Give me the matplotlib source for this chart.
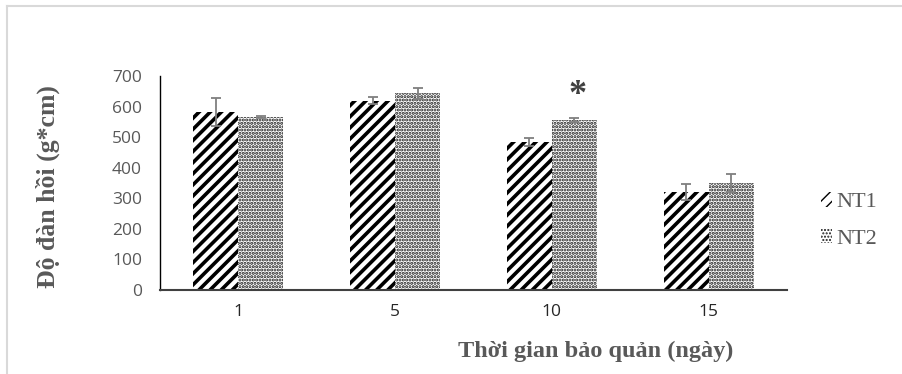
import matplotlib
matplotlib.use('Agg')
import matplotlib.pyplot as plt
from matplotlib.lines import Line2D
import numpy as np

days = ['1', '5', '10', '15']
nt1 = [582, 619, 484, 321]
nt1_err = [45, 12, 12, 25]
nt2 = [566, 643, 557, 350]
nt2_err = [4, 17, 7, 28]
series_names = ['NT1', 'NT2']
star_label = '*'

def work():
    fig = plt.figure(figsize=(9.02, 3.74), dpi=100)
    ax = fig.add_axes([0.1774, 0.2246, 0.6951, 0.5722])

    x = np.arange(len(days))
    w = 0.287
    err_kw = dict(ecolor='#7f7f7f', elinewidth=1.3, capsize=3.5, capthick=1.3)

    with plt.rc_context({'hatch.linewidth': 2.6}):
        ax.bar(x - w / 2, nt1, w, yerr=nt1_err, color='white', edgecolor='black',
               linewidth=0, hatch='///', error_kw=err_kw, label=series_names[0])
    with plt.rc_context({'hatch.linewidth': 1.5}):
        ax.bar(x + w / 2, nt2, w, yerr=nt2_err, color='white', edgecolor='#1a1a1a',
               linewidth=0, hatch='.....', error_kw=err_kw, label=series_names[1])

    # significance mark above NT2, day 10
    ax.text(x[2] + w / 2 + 0.02, nt2[2] + nt2_err[2] + 18, star_label, ha='center', va='bottom',
            fontsize=26, fontweight='bold', family='Liberation Serif', color='#404040')

    ax.set_xlim(-0.5, len(days) - 0.5)
    ax.set_ylim(0, 700)
    ax.set_yticks(range(0, 701, 100))
    ax.set_xticks(x)
    ax.set_xticklabels(days)
    ax.tick_params(axis='y', length=0, pad=13, labelsize=12.5, labelcolor='#595959')
    ax.tick_params(axis='x', length=0, pad=10, labelsize=12.5, labelcolor='#262626')
    for lab in ax.get_xticklabels() + ax.get_yticklabels():
        lab.set_family('Open Sans')
    for s in ['top', 'right']:
        ax.spines[s].set_visible(False)
    ax.spines['left'].set_color('black')
    ax.spines['left'].set_linewidth(1.0)
    ax.spines['bottom'].set_color('#404040')
    ax.spines['bottom'].set_linewidth(1.5)

    fig.text(0.66, 0.0615, 'Thời gian bảo quản (ngày)', ha='center', va='center',
             fontsize=17.5, fontweight='bold', family='Liberation Serif', color='#595959')
    fig.text(0.053, 0.5, 'Độ đàn hồi (g*cm)', ha='center', va='center', rotation=90,
             fontsize=18.5, fontweight='bold', family='Liberation Serif', color='#595959')

    handles, labels = ax.get_legend_handles_labels()
    leg = fig.legend(handles, labels, loc='center left', bbox_to_anchor=(0.888, 0.41),
                     frameon=False, handlelength=0.5, handleheight=0.6, handletextpad=0.2,
                     labelspacing=0.75, prop={'family': 'Liberation Serif', 'size': 16})
    for t in leg.get_texts():
        t.set_color('#595959')

    # outer light gray frame (top and left visible)
    fig.add_artist(Line2D([0.0075, 0.0075], [0.0, 0.983], transform=fig.transFigure,
                          color='#d9d9d9', linewidth=1.5))
    fig.add_artist(Line2D([0.0075, 1.0], [0.983, 0.983], transform=fig.transFigure,
                          color='#d9d9d9', linewidth=1.5))

    fig.savefig('out.png', dpi=100)

if __name__ == '__main__':
    work()
